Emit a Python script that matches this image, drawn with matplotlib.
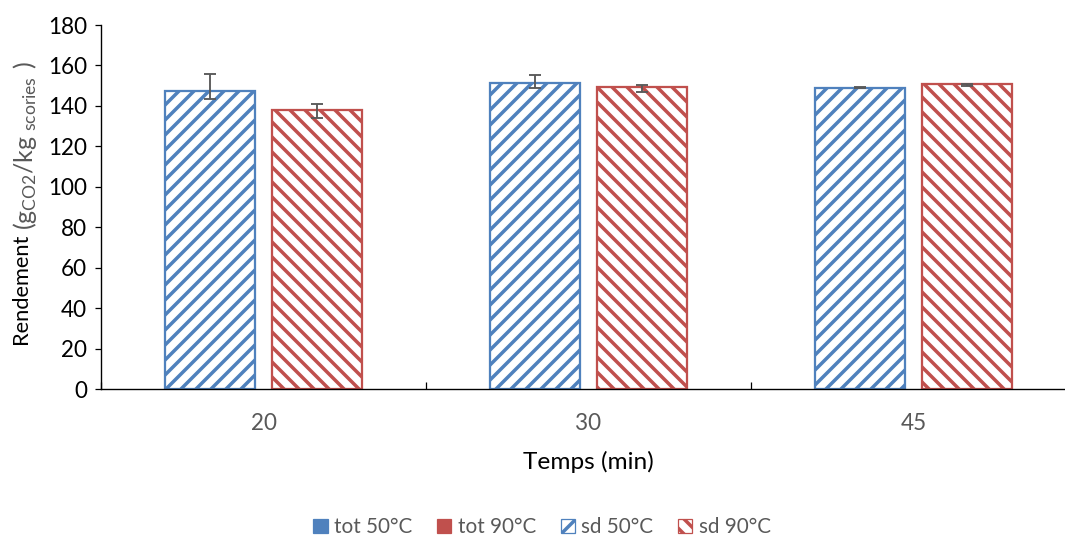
import matplotlib
matplotlib.use('Agg')
import numpy as np
from matplotlib import pyplot as plt
from matplotlib.patches import Patch

plt.rcParams['font.family'] = ['Lato', 'DejaVu Sans']
plt.rcParams['mathtext.fontset'] = 'custom'
plt.rcParams['mathtext.rm'] = 'Lato'
plt.rcParams['hatch.linewidth'] = 2.8

# Yield per reaction time, two temperatures
temps = ['20', '30', '45']
sd_50 = [147.4, 151.5, 149.0]
sd_90 = [138.0, 149.5, 150.8]
tot_50 = [149.6, 152.1, 148.9]
tot_90 = [137.5, 148.6, 150.3]
err_50 = [6.2, 3.2, 0.3]
err_90 = [3.3, 1.9, 0.3]

blue = '#4F81BD'
red = '#C0504D'
grey = '#595959'
fs = 18

dpi = 90
fig = plt.figure(figsize=(1065 / dpi, 537 / dpi), dpi=dpi)
ax = fig.add_axes([101 / 1065, 148 / 537, 975 / 1065, 364 / 537])

x = np.arange(len(temps))
width = 0.277
off = 0.166

ax.bar(x - off, sd_50, width, facecolor='white', edgecolor=blue, hatch='//', linewidth=1.8, zorder=2)
ax.bar(x + off, sd_90, width, facecolor='white', edgecolor=red, hatch='\\\\', linewidth=1.8, zorder=2)
ax.errorbar(x - off, tot_50, yerr=err_50, fmt='none', ecolor=grey, elinewidth=1.5,
            capsize=5, capthick=1.5, zorder=3)
ax.errorbar(x + off, tot_90, yerr=err_90, fmt='none', ecolor=grey, elinewidth=1.5,
            capsize=5, capthick=1.5, zorder=3)

ax.set_xlim(-0.5, len(temps) - 0.5)
ax.set_ylim(0, 180)
ax.set_yticks(np.arange(0, 181, 20))
ax.tick_params(axis='y', labelsize=fs, labelcolor='black', length=5, width=1, pad=6)

# category separators as ticks, labels in the middle of each group
ax.set_xticks(np.arange(len(temps) + 1) - 0.5)
ax.set_xticklabels([])
ax.tick_params(axis='x', which='major', direction='in', length=6, width=1)
ax.set_xticks(x, minor=True)
ax.set_xticklabels(temps, minor=True)
ax.tick_params(axis='x', which='minor', length=0, labelsize=fs, labelcolor=grey, pad=19)

for s in ['top', 'right']:
    ax.spines[s].set_visible(False)
for s in ['left', 'bottom']:
    ax.spines[s].set_linewidth(1.1)

ax.set_xlabel('Temps (min)', fontsize=19.5, labelpad=14)

# y label: plain part in black, unit part in grey
fig.canvas.draw()
r = fig.canvas.get_renderer()
t1 = fig.text(23 / 1065, 1 - 346 / 537, 'Rendement ', rotation=90, fontsize=17.5,
              ha='center', va='bottom')
bb = t1.get_window_extent(r).transformed(fig.transFigure.inverted())
fig.text(25 / 1065, bb.y1, r'$\mathregular{(g_{CO2}/kg_{\ scories}\ )}$', rotation=90,
         fontsize=20, color=grey, ha='center', va='bottom')

handles = [
    Patch(facecolor=blue, edgecolor=blue, label='tot 50°C'),
    Patch(facecolor=red, edgecolor=red, label='tot 90°C'),
    Patch(facecolor='white', edgecolor=blue, hatch='//', label='sd 50°C'),
    Patch(facecolor='white', edgecolor=red, hatch='\\\\', label='sd 90°C'),
]
leg = fig.legend(handles=handles, loc='center', bbox_to_anchor=(542 / 1065, 10 / 537), ncol=4,
                 frameon=False, fontsize=16.5, handlelength=0.7, handleheight=0.7,
                 handletextpad=0.3, columnspacing=1.2)
for t in leg.get_texts():
    t.set_color(grey)

fig.savefig('out.png', dpi=dpi)
